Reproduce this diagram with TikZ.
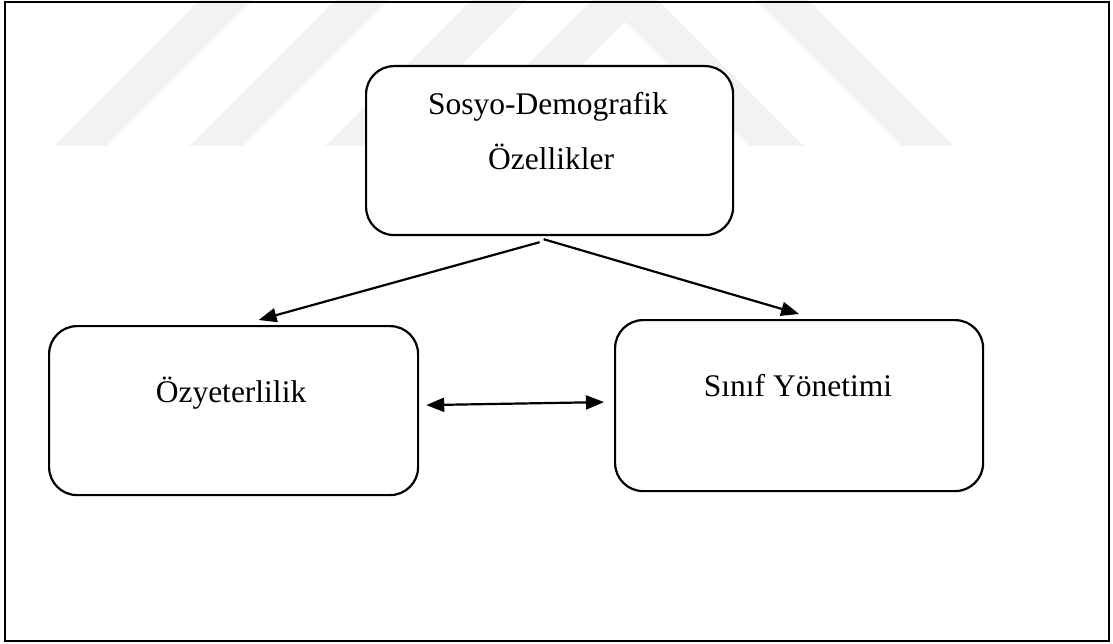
\documentclass[tikz,border=0pt]{standalone}
\usepackage{fontspec}
\setmainfont{Liberation Serif}
\usetikzlibrary{arrows.meta,calc}
\definecolor{wm}{gray}{0.95}
\begin{document}
\begin{tikzpicture}[x=1pt,y=-1pt,
  box/.style={draw, line width=2.2pt, rounded corners=28pt, fill=white, inner sep=0pt, anchor=north west},
  lbl/.style={anchor=base, inner sep=0pt, font=\fontsize{31.5}{38}\selectfont},
  tip/.style={},
  arr/.style={line width=2.2pt, -{Triangle[length=18pt,width=14pt]}},
  darr/.style={line width=2.2pt, {Triangle[length=18pt,width=14pt]}-{Triangle[length=18pt,width=14pt]}},
  wmark/.style={fill=wm, draw=none}]
\useasboundingbox (0,0) rectangle (1113,644);
% watermark
\fill[wmark] (54,146) -- (107,146) -- (253,0) -- (200,0) -- cycle;
\fill[wmark] (189,146) -- (243,146) -- (389,0) -- (335,0) -- cycle;
\fill[wmark] (325,146) -- (380,146) -- (526,0) -- (471,0) -- cycle;
\fill[wmark] (446,146) -- (501,146) -- (625,22) -- (749,146) -- (804,146) -- (658,0) -- (592,0) -- cycle;
\fill[wmark] (755,0) -- (808,0) -- (954,146) -- (901,146) -- cycle;
% frame
\draw[line width=2.5pt] (5,2) rectangle (1109,641);
% boxes
\node[box, minimum width=367pt, minimum height=169pt] (sd) at (365,65) {};
\node[box, minimum width=369pt, minimum height=169pt] (oz) at (48,325) {};
\node[box, minimum width=368pt, minimum height=171pt] (sy) at (614,319) {};
% labels
\node[lbl] (sdl1) at (548,115) {Sosyo-Demografik};
\node[lbl] (sdl2) at (551,170) {Özellikler};
\node[lbl] (ozl) at (231,402) {Özyeterlilik};
\node[lbl] (syl) at (798,396) {Sınıf Yönetimi};
% connectors
\coordinate (fl) at ($(sd.south)+(-10,6)$);
\coordinate (fr) at ($(sd.south)+(-6,3)$);
\coordinate (ozt) at ($(oz.north)+(25,-5)$);
\coordinate (syt) at ($(sy.north)+(0,-5)$);
\draw[arr] (fl) -- (ozt);
\draw[arr] (fr) -- (syt);
\draw[darr] ($(oz.east)+(7,-5.5)$) -- ($(sy.west)+(-10,-3.5)$);
\end{tikzpicture}
\end{document}
